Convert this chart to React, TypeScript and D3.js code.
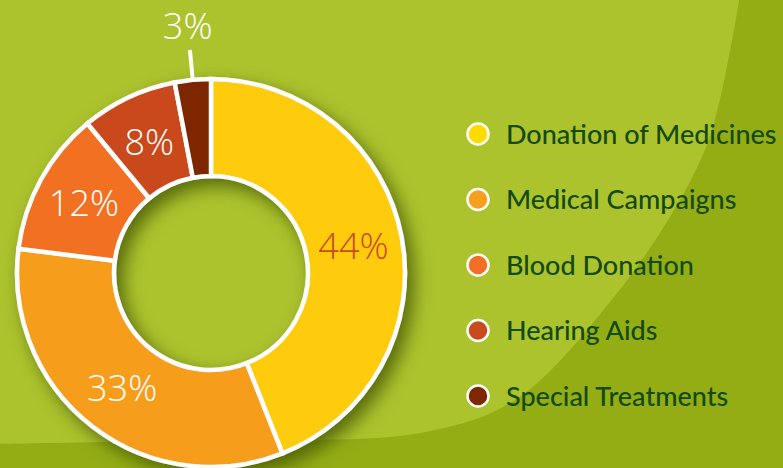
import React from "react";
import * as d3 from "d3";

const categories = [
  "Donation of Medicines",
  "Medical Campaigns",
  "Blood Donation",
  "Hearing Aids",
  "Special Treatments",
];
const values = [44, 33, 12, 8, 3];
const sliceColors = ["#FECB0C", "#F79D1E", "#F26F23", "#C94A1C", "#7D2800"];
const legendColors = ["#FFDB00", "#F7A020", "#F26F23", "#C94A1C", "#7D2800"];
const labelColors = ["#C94A1C", "#FFFFFF", "#FFFFFF", "#FFFFFF", "#FFFFFF"];

const W = 783;
const H = 468;
const cx = 211;
const cy = 273;
const outerR = 194;
const innerR = 97;

// decorative background curve (light region boundary)
const bgCurve: [number, number][] = [
  [-10, 444],
  [200, 440],
  [420, 433],
  [515, 400],
  [610, 302],
  [680, 200],
  [712, 130],
  [740, -5],
];

export default function App() {
  const pie = d3
    .pie<number>()
    .sort(null)
    .value((d) => d)
    .startAngle(0)
    .endAngle(2 * Math.PI);
  const arcs = pie(values);
  const arc = d3.arc<d3.PieArcDatum<number>>().innerRadius(innerR).outerRadius(outerR);
  const labelArc = d3.arc<d3.PieArcDatum<number>>().innerRadius(145).outerRadius(145);
  const lineStart = d3.arc<d3.PieArcDatum<number>>().innerRadius(196).outerRadius(196);
  const lineEnd = d3.arc<d3.PieArcDatum<number>>().innerRadius(224).outerRadius(224);
  const outLabel = d3.arc<d3.PieArcDatum<number>>().innerRadius(248).outerRadius(248);

  const line = d3.line().curve(d3.curveCatmullRom.alpha(0.5));
  const lightPath = line(bgCurve) + ` L740,-5 L-10,-5 Z`;

  const legendY = d3
    .scalePoint<string>()
    .domain(categories)
    .range([134, 396]);

  const pctFont = "'Open Sans', Lato, sans-serif";

  return (
    <svg
      width={W}
      height={H}
      style={{ position: "fixed", left: 0, top: 0, display: "block" }}
      fontFamily="Lato, 'Open Sans', sans-serif"
    >
      <defs>
        <filter id="shadow" x="-30%" y="-30%" width="160%" height="160%">
          <feGaussianBlur in="SourceAlpha" stdDeviation="9" />
          <feOffset dx="7" dy="8" result="b" />
          <feFlood floodColor="#3a4d00" floodOpacity="0.75" />
          <feComposite in2="b" operator="in" />
          <feMerge>
            <feMergeNode />
            <feMergeNode in="SourceGraphic" />
          </feMerge>
        </filter>
      </defs>
      <rect x={0} y={0} width={W} height={H} fill="#94AD15" />
      <path d={lightPath} fill="#ADC32D" />

      <g transform={`translate(${cx},${cy})`}>
        <g filter="url(#shadow)">
          {arcs.map((a, i) => (
            <path
              key={i}
              d={arc(a) || ""}
              fill={sliceColors[i]}
              stroke="#FFFFFF"
              strokeWidth={4.5}
              strokeLinejoin="miter"
            />
          ))}
        </g>
        {arcs.map((a, i) => {
          if (a.data < 5) {
            const [x1, y1] = lineStart.centroid(a);
            const [x2, y2] = lineEnd.centroid(a);
            const [lx, ly] = outLabel.centroid(a);
            return (
              <g key={`l${i}`}>
                <line x1={x1} y1={y1} x2={x2} y2={y2} stroke="#FFFFFF" strokeWidth={4} />
                <text
                  x={lx}
                  y={ly}
                  dy="0.36em"
                  textAnchor="middle"
                  fontSize={36}
                  fontWeight={300}
                  fontFamily={pctFont}
                  fill="#FFFFFF"
                >
                  {a.data}%
                </text>
              </g>
            );
          }
          const [lx, ly] = labelArc.centroid(a);
          return (
            <text
              key={`l${i}`}
              x={lx}
              y={ly}
              dy="0.36em"
              textAnchor="middle"
              fontSize={36}
              fontWeight={300}
              fontFamily={pctFont}
              fill={labelColors[i]}
            >
              {a.data}%
            </text>
          );
        })}
      </g>

      <g>
        {categories.map((c, i) => (
          <g key={c} transform={`translate(0,${legendY(c)})`}>
            <circle cx={478} cy={0} r={10.5} fill={legendColors[i]} stroke="#FFFFFF" strokeWidth={2.5} />
            <text x={506} y={0} dy="0.36em" fontSize={27} fontWeight={500} fill="#134A12">
              {c}
            </text>
          </g>
        ))}
      </g>
    </svg>
  );
}
